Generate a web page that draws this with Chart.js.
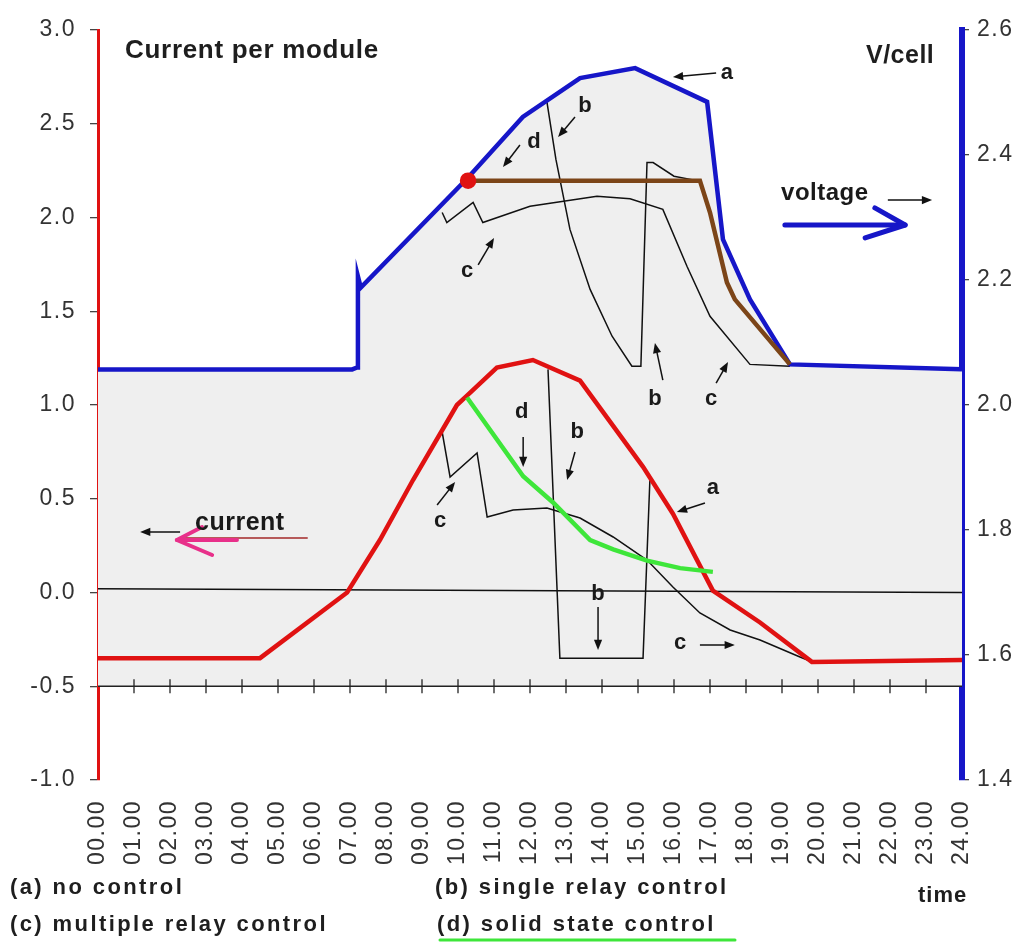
<!DOCTYPE html>
<html>
<head>
<meta charset="utf-8">
<script src="https://cdn.jsdelivr.net/npm/chart.js@4.4.0/dist/chart.umd.min.js"></script>
<style>
  html, body { margin: 0; padding: 0; background: #fff; }
  #caja { width: 1029px; height: 942px; }
</style>
</head>
<body>
<div id="caja"><canvas id="grafico" width="1029" height="942"></canvas></div>
<script>
// Etiquetas de los ejes
const horas = ['00.00', '01.00', '02.00', '03.00', '04.00', '05.00', '06.00', '07.00', '08.00',
    '09.00', '10.00', '11.00', '12.00', '13.00', '14.00', '15.00', '16.00', '17.00', '18.00',
    '19.00', '20.00', '21.00', '22.00', '23.00', '24.00'];
const ticksCorriente = ['-1.0', '-0.5', '0.0', '0.5', '1.0', '1.5', '2.0', '2.5', '3.0'];
const ticksTension = ['1.4', '1.6', '1.8', '2.0', '2.2', '2.4', '2.6'];

// Tension por celda (eje derecho)
const horaTensionA = [0, 7.06, 7.2, 7.22, 7.3, 10.28, 11.8, 13.39, 14.92, 16.92, 17.36, 18.11, 19.22, 24];
const tensionA = [2.057, 2.057, 2.06, 2.206, 2.188, 2.364, 2.461, 2.523, 2.539, 2.485, 2.265, 2.169, 2.065, 2.057];
const horaTensionB = [12.47, 12.72, 13.11, 13.67, 14.28, 14.83, 15.08, 15.25, 15.42, 16.0, 16.64];
const tensionB = [2.485, 2.393, 2.281, 2.185, 2.110, 2.062, 2.062, 2.388, 2.388, 2.366, 2.359];
const horaTensionC = [9.56, 9.69, 10.42, 10.69, 12.0, 13.86, 14.78, 15.69, 16.36, 17.0, 18.11, 19.22];
const tensionC = [2.308, 2.292, 2.324, 2.292, 2.318, 2.334, 2.330, 2.313, 2.222, 2.142, 2.065, 2.062];
const horaTensionD = [10.28, 16.72, 17.0, 17.47, 17.69, 19.22];
const tensionD = [2.359, 2.359, 2.308, 2.196, 2.169, 2.065];

// Corriente por modulo (eje izquierdo)
const horaCorrienteA = [0, 4.5, 6.92, 7.83, 8.75, 9.97, 10.25, 11.08, 12.08, 13.39, 15.14, 15.97, 17.08, 18.39, 19.83, 24];
const corrienteA = [-0.35, -0.35, 0.0, 0.28, 0.6, 1.0, 1.05, 1.2, 1.24, 1.13, 0.67, 0.42, 0.01, -0.16, -0.37, -0.36];
const horaCorrienteB = [12.5, 12.83, 15.14, 15.33];
const corrienteB = [1.19, -0.35, -0.35, 0.6];
const horaCorrienteC = [9.56, 9.78, 10.53, 10.81, 11.53, 12.47, 13.39, 14.31, 15.25, 15.97, 16.72, 17.56, 18.39, 19.5, 19.83];
const corrienteC = [0.856, 0.616, 0.744, 0.403, 0.44, 0.451, 0.397, 0.296, 0.173, 0.029, -0.109, -0.2, -0.253, -0.344, -0.37];
const horaCorrienteD = [10.25, 11.81, 12.64, 13.67, 14.31, 15.25, 16.17, 17.08];
const corrienteD = [1.04, 0.62, 0.48, 0.28, 0.23, 0.17, 0.13, 0.11];

// Lineas de referencia
const horaExtremos = [0, 24];
const lineaCero = [0.02, 0.0];
const lineaBase = [-0.5, -0.5];
const horaMarcas = [1, 2, 3, 4, 5, 6, 7, 8, 9, 10, 11, 12, 13, 14, 15, 16, 17, 18, 19, 20, 21, 22, 23];
const baseRelleno = 1.55;

// Anotaciones (hora, corriente)
const letras = [
    { t: 'a', h: 17.47, v: 2.739 }, { t: 'b', h: 13.53, v: 2.563 }, { t: 'd', h: 12.11, v: 2.371 },
    { t: 'c', h: 10.25, v: 1.683 }, { t: 'b', h: 15.47, v: 1.0 }, { t: 'c', h: 17.03, v: 1.0 },
    { t: 'd', h: 11.77, v: 0.931 }, { t: 'b', h: 13.31, v: 0.824 }, { t: 'a', h: 17.08, v: 0.525 },
    { t: 'c', h: 9.5, v: 0.349 }, { t: 'b', h: 13.89, v: -0.04 }, { t: 'c', h: 16.17, v: -0.301 }
];
const flechas = [
    [17.17, 2.771, 15.97, 2.749], [13.25, 2.536, 12.78, 2.429], [11.72, 2.387, 11.25, 2.269],
    [10.56, 1.747, 11.0, 1.891], [15.69, 1.133, 15.47, 1.331], [17.17, 1.117, 17.5, 1.229],
    [11.81, 0.829, 11.81, 0.669], [13.25, 0.749, 13.03, 0.6], [16.86, 0.477, 16.08, 0.429],
    [9.42, 0.467, 9.92, 0.589], [13.89, -0.077, 13.89, -0.307], [16.72, -0.28, 17.69, -0.28],
    [21.94, 2.093, 23.17, 2.093], [2.28, 0.323, 1.17, 0.323]
];

const fuente = "'Liberation Sans', Arial, sans-serif";
const azul = '#1616c8';
const rojo = '#e01212';

function puntos(xs, ys) {
    return xs.map((x, i) => ({ x: x, y: ys[i] }));
}

function flecha(ctx, x1, y1, x2, y2, color, ancho, cabeza) {
    const ang = Math.atan2(y2 - y1, x2 - x1);
    ctx.strokeStyle = color;
    ctx.fillStyle = color;
    ctx.lineWidth = ancho;
    ctx.beginPath();
    ctx.moveTo(x1, y1);
    ctx.lineTo(x2 - cabeza * 0.7 * Math.cos(ang), y2 - cabeza * 0.7 * Math.sin(ang));
    ctx.stroke();
    ctx.beginPath();
    ctx.moveTo(x2, y2);
    ctx.lineTo(x2 - cabeza * Math.cos(ang - 0.38), y2 - cabeza * Math.sin(ang - 0.38));
    ctx.lineTo(x2 - cabeza * Math.cos(ang + 0.38), y2 - cabeza * Math.sin(ang + 0.38));
    ctx.closePath();
    ctx.fill();
}

function linea(ctx, pts, color, ancho) {
    ctx.strokeStyle = color;
    ctx.lineWidth = ancho;
    ctx.lineCap = 'round';
    ctx.lineJoin = 'round';
    ctx.beginPath();
    pts.forEach((p, i) => i ? ctx.lineTo(p[0], p[1]) : ctx.moveTo(p[0], p[1]));
    ctx.stroke();
}

// El texto de la figura es algo mas ancho que Arial
const espaciado = {
    id: 'espaciado',
    beforeDraw(chart) {
        chart.ctx.letterSpacing = '1.5px';
    }
};

const anotaciones = {
    id: 'anotaciones',
    afterDatasetsDraw(chart) {
        const ctx = chart.ctx;
        const sx = chart.scales.x, sy = chart.scales.y;
        const px = h => sx.getPixelForValue(h);
        const py = v => sy.getPixelForValue(v);
        ctx.save();
        ctx.letterSpacing = '0px';
        ctx.fillStyle = '#1a1a1a';
        ctx.font = 'bold 22px ' + fuente;
        ctx.textAlign = 'center';
        ctx.textBaseline = 'alphabetic';
        letras.forEach(l => ctx.fillText(l.t, px(l.h), py(l.v)));
        flechas.forEach(f => flecha(ctx, px(f[0]), py(f[1]), px(f[2]), py(f[3]), '#111', 1.5, 11));

        // flecha azul de tension
        linea(ctx, [[px(19.08), py(1.96)], [px(22.42), py(1.96)]], azul, 5);
        linea(ctx, [[px(21.58), py(2.051)], [px(22.42), py(1.96)], [px(21.31), py(1.891)]], azul, 5);
        // flecha rosa de corriente
        linea(ctx, [[px(2.28), py(0.291)], [px(5.81), py(0.291)]], '#a42a2a', 1.6);
        linea(ctx, [[px(3.86), py(0.28)], [px(2.19), py(0.28)]], '#e8308a', 4);
        linea(ctx, [[px(2.89), py(0.349)], [px(2.19), py(0.28)], [px(3.17), py(0.2)]], '#e8308a', 4);

        ctx.letterSpacing = '0.5px';
        ctx.fillStyle = '#1a1a1a';
        ctx.font = 'bold 24px ' + fuente;
        ctx.fillText('voltage', px(20.19), py(2.093));
        ctx.font = 'bold 25px ' + fuente;
        ctx.fillText('current', px(3.94), py(0.333));
        ctx.restore();
    },
    afterDraw(chart) {
        const ctx = chart.ctx;
        ctx.save();
        ctx.fillStyle = '#1e1e1e';
        ctx.textAlign = 'left';
        ctx.textBaseline = 'alphabetic';
        ctx.letterSpacing = '0.7px';
        ctx.font = 'bold 26px ' + fuente;
        ctx.fillText('Current per module', 125, 58);
        ctx.font = 'bold 25px ' + fuente;
        ctx.letterSpacing = '0.5px';
        ctx.fillText('V/cell', 866, 63);
        ctx.font = 'bold 22px ' + fuente;
        ctx.letterSpacing = '2.4px';
        ctx.fillText('(a) no control', 10, 894);
        ctx.fillText('(b) single relay control', 435, 894);
        ctx.fillText('(c) multiple relay control', 10, 931);
        ctx.fillText('(d) solid state control', 437, 931);
        ctx.letterSpacing = '1px';
        ctx.fillText('time', 918, 902);
        linea(ctx, [[440, 940], [735, 940]], '#3ee63a', 3);
        ctx.restore();
    }
};

const fijo = { pointRadius: 0, tension: 0, fill: false };

const ctx = document.getElementById('grafico').getContext('2d');
const chart = new Chart(ctx, {
    type: 'line',
    data: {
        datasets: [
            Object.assign({}, fijo, { data: puntos(horaExtremos, lineaCero), borderColor: '#111', borderWidth: 1.5, order: 20 }),
            Object.assign({}, fijo, { data: puntos(horaExtremos, lineaBase), borderColor: '#222', borderWidth: 1.3, order: 20 }),
            Object.assign({}, fijo, {
                data: puntos(horaMarcas, horaMarcas.map(() => lineaBase[0])), showLine: false,
                pointStyle: 'line', rotation: 90, pointRadius: 7, borderColor: '#222', borderWidth: 1.3, order: 20
            }),
            Object.assign({}, fijo, { data: puntos(horaTensionB, tensionB), yAxisID: 'y1', borderColor: '#111', borderWidth: 1.5, order: 10 }),
            Object.assign({}, fijo, { data: puntos(horaTensionC, tensionC), yAxisID: 'y1', borderColor: '#111', borderWidth: 1.5, order: 10 }),
            Object.assign({}, fijo, { data: puntos(horaCorrienteB, corrienteB), borderColor: '#111', borderWidth: 1.5, order: 10 }),
            Object.assign({}, fijo, { data: puntos(horaCorrienteC, corrienteC), borderColor: '#111', borderWidth: 1.5, order: 10 }),
            Object.assign({}, fijo, {
                data: puntos(horaTensionA, tensionA), yAxisID: 'y1', borderColor: azul, borderWidth: 4.5,
                fill: { value: baseRelleno }, backgroundColor: '#efefef', order: 4
            }),
            Object.assign({}, fijo, {
                data: puntos(horaTensionD, tensionD), yAxisID: 'y1', borderColor: '#7c4518', borderWidth: 4.5, order: 3,
                pointRadius: horaTensionD.map((h, i) => i === 0 ? 6 : 0), pointBackgroundColor: rojo, pointBorderColor: rojo
            }),
            Object.assign({}, fijo, { data: puntos(horaCorrienteA, corrienteA), borderColor: rojo, borderWidth: 4.5, order: 2 }),
            Object.assign({}, fijo, { data: puntos(horaCorrienteD, corrienteD), borderColor: '#3ee63a', borderWidth: 4.5, order: 1 })
        ]
    },
    options: {
        responsive: false,
        animation: false,
        events: [],
        layout: { padding: { top: 30, left: 0, right: 0, bottom: 0 } },
        plugins: {
            legend: { display: false },
            tooltip: { enabled: false },
            filler: { drawTime: 'beforeDatasetsDraw' }
        },
        scales: {
            x: {
                type: 'linear',
                min: 0,
                max: 24,
                border: { display: false },
                grid: { display: false, drawTicks: false },
                ticks: {
                    stepSize: 1,
                    autoSkip: false,
                    maxRotation: 90,
                    minRotation: 90,
                    padding: 20,
                    color: '#333',
                    font: { family: fuente, size: 23 },
                    callback: (v, i) => horas[i]
                },
                afterFit: s => { s.height = 162; }
            },
            y: {
                position: 'left',
                min: -1,
                max: 3,
                border: { display: true, color: rojo, width: 3 },
                grid: { drawOnChartArea: false, color: '#444', tickLength: 8, lineWidth: 1.3 },
                ticks: {
                    stepSize: 0.5,
                    padding: 14,
                    color: '#333',
                    font: { family: fuente, size: 23 },
                    callback: (v, i) => ticksCorriente[i]
                },
                afterFit: s => { s.width = 98; }
            },
            y1: {
                position: 'right',
                min: 1.4,
                max: 2.6,
                border: { display: true, color: azul, width: 6 },
                grid: { drawOnChartArea: false, color: '#444', tickLength: 7, lineWidth: 1.3 },
                ticks: {
                    stepSize: 0.2,
                    padding: 8,
                    color: '#333',
                    font: { family: fuente, size: 23 },
                    callback: (v, i) => ticksTension[i]
                },
                afterFit: s => { s.width = 67; }
            }
        }
    },
    plugins: [espaciado, anotaciones]
});
</script>
</body>
</html>
